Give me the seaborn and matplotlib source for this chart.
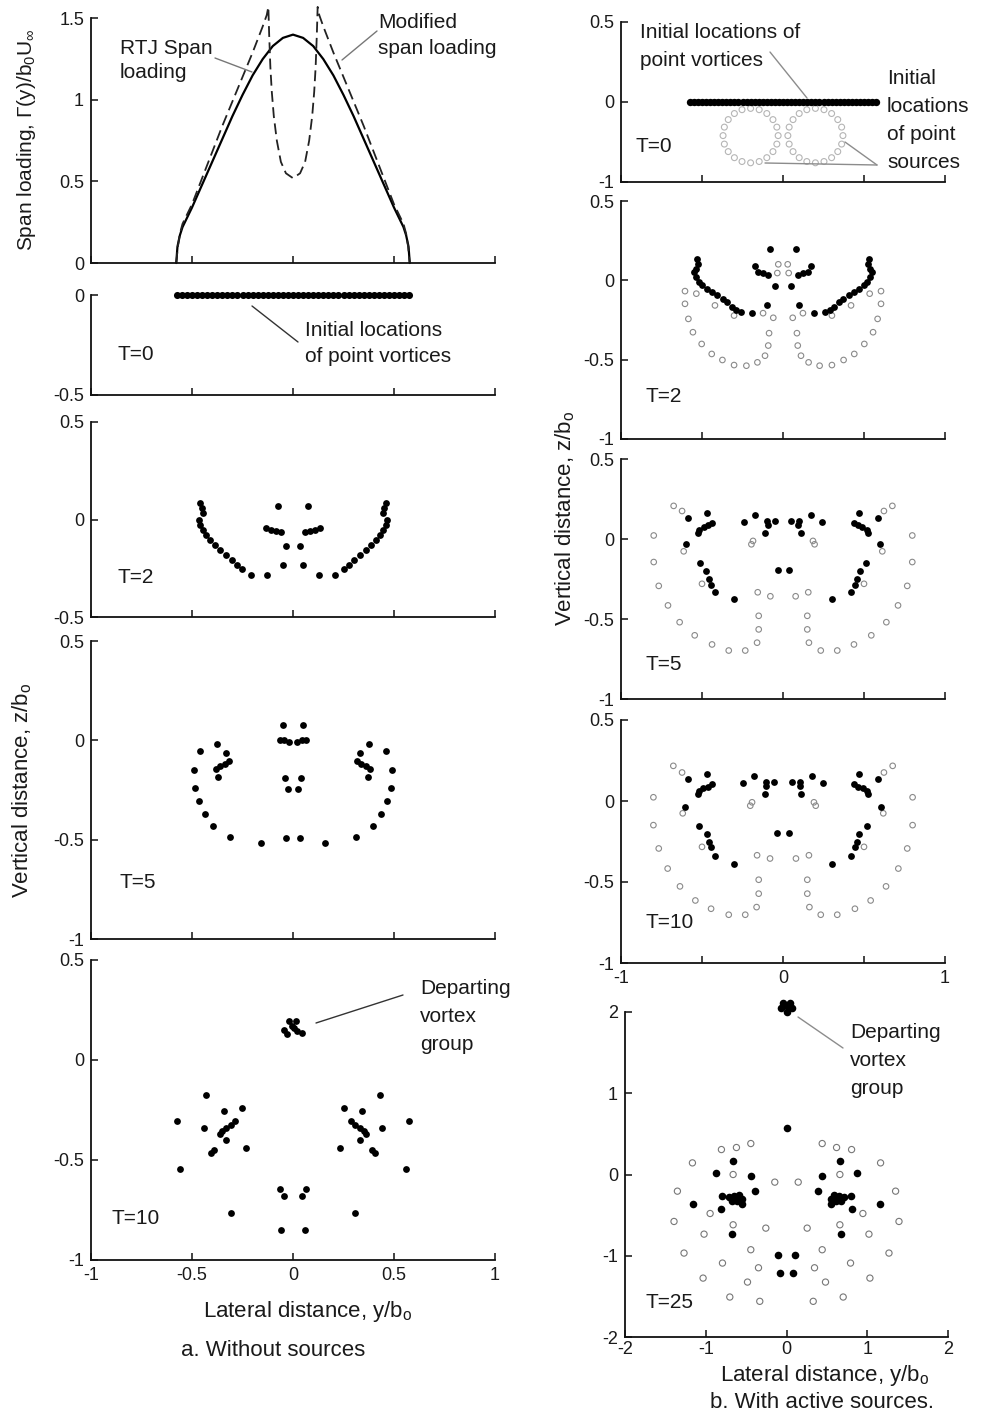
import matplotlib
matplotlib.use("Agg")
import matplotlib.pyplot as plt
import seaborn as sns
from matplotlib.lines import Line2D

sns.set_style("ticks")
plt.rcParams['font.family'] = ['Liberation Sans', 'DejaVu Sans']
plt.rcParams['mathtext.fontset'] = 'custom'
plt.rcParams['mathtext.rm'] = 'Liberation Sans'
plt.rcParams['mathtext.it'] = 'Liberation Sans:italic'
plt.rcParams['axes.unicode_minus'] = False

# ---------------- DATA ----------------
# Span loading (panel a, top)
span_y = [-0.578, -0.572, -0.56, -0.547, -0.5, -0.45, -0.4, -0.35, -0.3, -0.25, -0.2, -0.15, -0.1, -0.05, 0.0,
          0.05, 0.1, 0.15, 0.2, 0.25, 0.3, 0.35, 0.4, 0.45, 0.5, 0.547, 0.56, 0.572, 0.578]
rtj_gamma = [0.0, 0.1, 0.17, 0.22, 0.34, 0.48, 0.62, 0.76, 0.9, 1.03, 1.15, 1.25, 1.33, 1.38, 1.40,
             1.38, 1.33, 1.25, 1.15, 1.03, 0.9, 0.76, 0.62, 0.48, 0.34, 0.22, 0.17, 0.1, 0.0]
mod_y = [-0.578, -0.57, -0.56, -0.547, -0.5, -0.45, -0.4, -0.35, -0.3, -0.25, -0.2, -0.15, -0.13, -0.122,
         -0.118, -0.112, -0.105, -0.095, -0.08, -0.06, -0.035, 0.0,
         0.035, 0.06, 0.08, 0.095, 0.105, 0.112, 0.118, 0.122, 0.13, 0.15, 0.2, 0.25, 0.3, 0.35, 0.4,
         0.45, 0.5, 0.547, 0.56, 0.57, 0.578]
mod_gamma = [0.0, 0.1, 0.18, 0.24, 0.36, 0.52, 0.68, 0.84, 0.99, 1.14, 1.29, 1.45, 1.52, 1.57,
             1.4, 1.2, 1.05, 0.9, 0.75, 0.62, 0.55, 0.52,
             0.55, 0.62, 0.75, 0.9, 1.05, 1.2, 1.4, 1.57, 1.52, 1.45, 1.29, 1.14, 0.99, 0.84, 0.68,
             0.52, 0.36, 0.24, 0.18, 0.1, 0.0]

# Initial vortex sheet (T=0)
vortex_y0 = [-0.575, -0.55, -0.525, -0.5, -0.475, -0.45, -0.425, -0.4, -0.375, -0.35, -0.325, -0.3,
             -0.275, -0.25, -0.225, -0.2, -0.175, -0.15, -0.125, -0.1, -0.075, -0.05, -0.025, 0.0,
             0.025, 0.05, 0.075, 0.1, 0.125, 0.15, 0.175, 0.2, 0.225, 0.25, 0.275, 0.3, 0.325, 0.35,
             0.375, 0.4, 0.425, 0.45, 0.475, 0.5, 0.525, 0.55, 0.575]
vortex_z0 = [0.0] * len(vortex_y0)

# Initial source rings (T=0, with sources)
src0_y = [-0.03, -0.038, -0.062, -0.1, -0.147, -0.2, -0.253, -0.3, -0.338, -0.362, -0.37, -0.362, -0.338, -0.3,
          -0.253, -0.2, -0.147, -0.1, -0.062, -0.038,
          0.37, 0.362, 0.338, 0.3, 0.253, 0.2, 0.147, 0.1, 0.062, 0.038, 0.03, 0.038, 0.062, 0.1, 0.147,
          0.2, 0.253, 0.3, 0.338, 0.362]
src0_z = [-0.21, -0.157, -0.11, -0.072, -0.048, -0.04, -0.048, -0.072, -0.11, -0.157, -0.21, -0.263, -0.31, -0.348,
          -0.372, -0.38, -0.372, -0.348, -0.31, -0.263,
          -0.21, -0.157, -0.11, -0.072, -0.048, -0.04, -0.048, -0.072, -0.11, -0.157, -0.21, -0.263, -0.31, -0.348,
          -0.372, -0.38, -0.372, -0.348, -0.31, -0.263]

# a. Without sources, T=2
a2_y = [-0.458, -0.45, -0.447, -0.466, -0.458, -0.447, -0.43, -0.409, -0.384, -0.359, -0.334, -0.304, -0.276,
        -0.251, -0.21, -0.127, -0.073, -0.136, -0.111, -0.086, -0.061, -0.036, -0.05,
        0.458, 0.45, 0.447, 0.466, 0.458, 0.447, 0.43, 0.409, 0.384, 0.359, 0.334, 0.304, 0.276,
        0.251, 0.21, 0.127, 0.073, 0.136, 0.111, 0.086, 0.061, 0.036, 0.05]
a2_z = [0.086, 0.06, 0.034, 0.0, -0.026, -0.052, -0.077, -0.103, -0.129, -0.155, -0.18, -0.206, -0.232,
        -0.253, -0.284, -0.284, 0.069, -0.043, -0.052, -0.057, -0.065, -0.134, -0.232,
        0.086, 0.06, 0.034, 0.0, -0.026, -0.052, -0.077, -0.103, -0.129, -0.155, -0.18, -0.206, -0.232,
        -0.253, -0.284, -0.284, 0.069, -0.043, -0.052, -0.057, -0.065, -0.134, -0.232]

# a. Without sources, T=5
a5_y = [-0.458, -0.488, -0.483, -0.463, -0.437, -0.397, -0.314, -0.16, -0.376, -0.334, -0.318, -0.337, -0.359,
        -0.379, -0.371, -0.05, -0.066, -0.045, -0.02, -0.041, -0.025, -0.033,
        0.458, 0.488, 0.483, 0.463, 0.437, 0.397, 0.314, 0.16, 0.376, 0.334, 0.318, 0.337, 0.359,
        0.379, 0.371, 0.05, 0.066, 0.045, 0.02, 0.041, 0.025, 0.033]
a5_z = [-0.054, -0.148, -0.238, -0.306, -0.369, -0.429, -0.488, -0.519, -0.02, -0.065, -0.102, -0.119, -0.128,
        -0.145, -0.184, 0.077, 0.003, 0.0, -0.009, -0.192, -0.247, -0.493,
        -0.054, -0.148, -0.238, -0.306, -0.369, -0.429, -0.488, -0.519, -0.02, -0.065, -0.102, -0.119, -0.128,
        -0.145, -0.184, 0.077, 0.003, 0.0, -0.009, -0.192, -0.247, -0.493]

# a. Without sources, T=10
a10_y = [-0.433, -0.573, -0.56, -0.309, -0.341, -0.251, -0.287, -0.309, -0.33, -0.35, -0.363, -0.441, -0.33,
         -0.234, -0.391, -0.408, -0.065, -0.044, -0.057,
         0.433, 0.573, 0.56, 0.309, 0.341, 0.251, 0.287, 0.309, 0.33, 0.35, 0.363, 0.441, 0.33,
         0.234, 0.391, 0.408, 0.065, 0.044, 0.057,
         -0.022, 0.014, -0.006, -0.044, -0.032, 0.022, 0.044, 0.005]
a10_z = [-0.176, -0.303, -0.546, -0.767, -0.256, -0.24, -0.307, -0.323, -0.34, -0.357, -0.37, -0.34, -0.399,
         -0.44, -0.449, -0.466, -0.647, -0.678, -0.848,
         -0.176, -0.303, -0.546, -0.767, -0.256, -0.24, -0.307, -0.323, -0.34, -0.357, -0.37, -0.34, -0.399,
         -0.44, -0.449, -0.466, -0.647, -0.678, -0.848,
         0.196, 0.193, 0.171, 0.149, 0.132, 0.146, 0.137, 0.16]

# b. With sources, T=2
b2_vy = [-0.529, -0.523, -0.535, -0.549, -0.539, -0.519, -0.498, -0.467, -0.436, -0.405, -0.37, -0.344, -0.317,
         -0.288, -0.261, -0.193, -0.082, -0.173, -0.152, -0.123, -0.091, -0.049, -0.097,
         0.529, 0.523, 0.535, 0.549, 0.539, 0.519, 0.498, 0.467, 0.436, 0.405, 0.37, 0.344, 0.317,
         0.288, 0.261, 0.193, 0.082, 0.173, 0.152, 0.123, 0.091, 0.049, 0.097]
b2_vz = [0.137, 0.105, 0.074, 0.053, 0.021, -0.011, -0.032, -0.053, -0.074, -0.095, -0.116, -0.137, -0.165,
         -0.19, -0.2, -0.207, 0.2, 0.089, 0.053, 0.046, 0.032, -0.038, -0.158,
         0.137, 0.105, 0.074, 0.053, 0.021, -0.011, -0.032, -0.053, -0.074, -0.095, -0.116, -0.137, -0.165,
         -0.19, -0.2, -0.207, 0.2, 0.089, 0.053, 0.046, 0.032, -0.038, -0.158]
b2_sy = [-0.605, -0.535, -0.605, -0.584, -0.556, -0.502, -0.44, -0.374, -0.302, -0.226, -0.158, -0.111, -0.091,
         -0.086, -0.06, -0.123, -0.302, -0.42, -0.029, -0.035,
         0.605, 0.535, 0.605, 0.584, 0.556, 0.502, 0.44, 0.374, 0.302, 0.226, 0.158, 0.111, 0.091,
         0.086, 0.06, 0.123, 0.302, 0.42, 0.029, 0.035]
b2_sz = [-0.068, -0.084, -0.148, -0.243, -0.327, -0.401, -0.464, -0.502, -0.534, -0.538, -0.517, -0.475, -0.411,
         -0.333, -0.236, -0.207, -0.222, -0.158, 0.101, 0.046,
         -0.068, -0.084, -0.148, -0.243, -0.327, -0.401, -0.464, -0.502, -0.534, -0.538, -0.517, -0.475, -0.411,
         -0.333, -0.236, -0.207, -0.222, -0.158, 0.101, 0.046]

# b. With sources, T=5
b5_vy = [-0.588, -0.469, -0.438, -0.463, -0.49, -0.516, -0.525, -0.599, -0.514, -0.473, -0.459, -0.442, -0.418,
         -0.305, -0.243, -0.175, -0.099, -0.095, -0.109, -0.051, -0.033,
         0.588, 0.469, 0.438, 0.463, 0.49, 0.516, 0.525, 0.599, 0.514, 0.473, 0.459, 0.442, 0.418,
         0.305, 0.243, 0.175, 0.099, 0.095, 0.109, 0.051, 0.039]
b5_vz = [0.13, 0.161, 0.1, 0.085, 0.073, 0.059, 0.039, -0.033, -0.15, -0.201, -0.252, -0.287, -0.333,
         -0.378, 0.106, 0.15, 0.114, 0.089, 0.039, 0.114, -0.195,
         0.13, 0.161, 0.1, 0.085, 0.073, 0.059, 0.039, -0.033, -0.15, -0.201, -0.252, -0.287, -0.333,
         -0.378, 0.106, 0.15, 0.114, 0.089, 0.039, 0.114, -0.195]
b5_sy = [-0.675, -0.623, -0.798, -0.613, -0.798, -0.767, -0.71, -0.638, -0.545, -0.438, -0.335, -0.233, -0.16,
         -0.15, -0.15, -0.156, -0.078, -0.5, -0.195, -0.185,
         0.675, 0.623, 0.798, 0.613, 0.798, 0.767, 0.71, 0.638, 0.545, 0.438, 0.335, 0.233, 0.16,
         0.15, 0.15, 0.156, 0.078, 0.5, 0.195, 0.185]
b5_sz = [0.207, 0.175, 0.022, -0.077, -0.144, -0.293, -0.415, -0.52, -0.602, -0.659, -0.697, -0.697, -0.648,
         -0.565, -0.48, -0.333, -0.358, -0.28, -0.033, -0.012,
         0.207, 0.175, 0.022, -0.077, -0.144, -0.293, -0.415, -0.52, -0.602, -0.659, -0.697, -0.697, -0.648,
         -0.565, -0.48, -0.333, -0.358, -0.28, -0.033, -0.012]

# b. With sources, T=10
b10_vy = [-0.588, -0.469, -0.438, -0.465, -0.496, -0.516, -0.527, -0.603, -0.521, -0.471, -0.459, -0.444, -0.418,
          -0.3, -0.245, -0.177, -0.105, -0.105, -0.111, -0.053, -0.037,
          0.588, 0.469, 0.438, 0.465, 0.496, 0.516, 0.527, 0.603, 0.521, 0.471, 0.459, 0.444, 0.418,
          0.3, 0.245, 0.177, 0.105, 0.105, 0.111, 0.053, 0.037]
b10_vz = [0.134, 0.165, 0.105, 0.089, 0.079, 0.064, 0.041, -0.035, -0.155, -0.205, -0.252, -0.283, -0.341,
          -0.386, 0.114, 0.155, 0.12, 0.095, 0.041, 0.12, -0.2,
          0.134, 0.165, 0.105, 0.089, 0.079, 0.064, 0.041, -0.035, -0.155, -0.205, -0.252, -0.283, -0.341,
          -0.386, 0.114, 0.155, 0.12, 0.095, 0.041, 0.12, -0.2]
b10_sy = [-0.677, -0.623, -0.8, -0.619, -0.8, -0.767, -0.712, -0.636, -0.541, -0.444, -0.335, -0.233, -0.163,
          -0.15, -0.15, -0.16, -0.08, -0.5, -0.202, -0.191,
          0.677, 0.623, 0.8, 0.619, 0.8, 0.767, 0.712, 0.636, 0.541, 0.444, 0.335, 0.233, 0.163,
          0.15, 0.15, 0.16, 0.08, 0.5, 0.202, 0.191]
b10_sz = [0.217, 0.176, 0.023, -0.076, -0.149, -0.293, -0.417, -0.527, -0.614, -0.665, -0.702, -0.702, -0.655,
          -0.572, -0.486, -0.335, -0.355, -0.283, -0.029, -0.008,
          0.217, 0.176, 0.023, -0.076, -0.149, -0.293, -0.417, -0.527, -0.614, -0.665, -0.702, -0.702, -0.655,
          -0.572, -0.486, -0.335, -0.355, -0.283, -0.029, -0.008]

# b. With sources, T=25
b25_vy = [-0.661, -0.876, -0.442, -0.393, -0.802, -1.157, -0.814, -0.669, -0.711, -0.649, -0.587, -0.545, -0.607,
          -0.669, -0.554, -0.107, -0.083,
          0.661, 0.876, 0.442, 0.393, 0.802, 1.157, 0.814, 0.669, 0.711, 0.649, 0.587, 0.545, 0.607,
          0.669, 0.554, 0.107, 0.083,
          0.012, -0.041, 0.041, -0.066, 0.066, 0.0, 0.0]
b25_vz = [0.172, 0.016, -0.02, -0.205, -0.27, -0.361, -0.422, -0.73, -0.279, -0.266, -0.258, -0.299, -0.32,
          -0.332, -0.361, -0.988, -1.213,
          0.172, 0.016, -0.02, -0.205, -0.27, -0.361, -0.422, -0.73, -0.279, -0.266, -0.258, -0.299, -0.32,
          -0.332, -0.361, -0.988, -1.213,
          0.57, 2.107, 2.107, 2.049, 2.049, 1.996, 2.078]
b25_sy = [-1.165, -0.806, -0.62, -0.442, -0.661, -1.351, -0.946, -0.661, -1.021, -1.393, -1.269, -0.793, -1.033,
          -0.702, -0.331, -0.483, -0.347, -0.442, -0.256, -0.145,
          1.165, 0.806, 0.62, 0.442, 0.661, 1.351, 0.946, 0.661, 1.021, 1.393, 1.269, 0.793, 1.033,
          0.702, 0.331, 0.483, 0.347, 0.442, 0.256, 0.145]
b25_sz = [0.143, 0.307, 0.332, 0.381, 0.0, -0.205, -0.48, -0.619, -0.734, -0.578, -0.967, -1.09, -1.275,
          -1.508, -1.561, -1.324, -1.148, -0.926, -0.66, -0.094,
          0.143, 0.307, 0.332, 0.381, 0.0, -0.205, -0.48, -0.619, -0.734, -0.578, -0.967, -1.09, -1.275,
          -1.508, -1.561, -1.324, -1.148, -0.926, -0.66, -0.094]

# ---------------- FIGURE ----------------
W, H = 981, 1414
fig = plt.figure(figsize=(W / 100, H / 100), dpi=100)
fig.patch.set_facecolor('white')

TXT = '#1a1a1a'
TICK_FS = 13
ANN_FS = 15
LAB_FS = 16


def box(l, r, t, b):
    return [l / W, 1 - b / H, (r - l) / W, (b - t) / H]


def fx(px):
    return px / W


def fy(py):
    return 1 - py / H


def style(ax, xlim, ylim, xticks, xlabels, yticks, ylabels, ybounds=None):
    ax.set_xlim(*xlim)
    ax.set_ylim(*ylim)
    sns.despine(ax=ax)
    for s in ('left', 'bottom'):
        ax.spines[s].set_linewidth(1.3)
        ax.spines[s].set_color('#111111')
    if ybounds is not None:
        ax.spines['left'].set_bounds(*ybounds)
    ax.set_xticks(xticks)
    ax.set_xticklabels(xlabels)
    ax.set_yticks(yticks)
    ax.set_yticklabels(ylabels)
    ax.tick_params(direction='in', length=5, width=1.1, labelsize=TICK_FS,
                   colors='#111111', labelcolor=TXT, pad=5)
    ax.set_facecolor('none')


def vort(ax, y, z, s=24):
    sns.scatterplot(x=y, y=z, ax=ax, color='black', s=s, linewidth=0,
                    legend=False, clip_on=False, zorder=3)


def srcs(ax, y, z, s=16, ec='#8a8a8a'):
    sns.scatterplot(x=y, y=z, ax=ax, color='white', s=s, linewidth=0.8,
                    legend=False, clip_on=False, zorder=2)
    coll = ax.collections[-1]
    coll.set_facecolor('none')
    coll.set_edgecolor(ec)


def text_lines(x, ys, lines, fs=ANN_FS, ha='left'):
    for yy, ln in zip(ys, lines):
        fig.text(fx(x), fy(yy), ln, fontsize=fs, color=TXT, ha=ha, va='center')


def leader(p1, p2, color='#444444', lw=1.0):
    fig.add_artist(Line2D([fx(p1[0]), fx(p2[0])], [fy(p1[1]), fy(p2[1])],
                          transform=fig.transFigure, color=color, lw=lw))


xt_a = [-1, -0.5, 0, 0.5, 1]
blank5 = ['', '', '', '', '']

# ---- a. Span loading ----
ax = fig.add_axes(box(91, 495, 2, 263))
style(ax, (-1, 1), (0, 1.6), xt_a, blank5, [0, 0.5, 1, 1.5], ['0', '0.5', '1', '1.5'], ybounds=(0, 1.5))
sns.lineplot(x=span_y, y=rtj_gamma, ax=ax, color='black', lw=1.6, estimator=None, sort=False, clip_on=False)
sns.lineplot(x=mod_y, y=mod_gamma, ax=ax, color='#222222', lw=1.3, estimator=None, sort=False, clip_on=False)
ax.lines[-1].set_dashes((6, 3))
text_lines(120, [48, 73], ['RTJ Span', 'loading'])
leader((215, 58), (252, 72), '#777777')
text_lines(378, [22, 49], ['Modified', 'span loading'])
leader((377, 31), (342, 60), '#777777')

# ---- a. T=0 ----
ax = fig.add_axes(box(91, 495, 295, 395))
style(ax, (-1, 1), (-0.5, 0), xt_a, blank5, [-0.5, 0], ['-0.5', '0'])
vort(ax, vortex_y0, vortex_z0, s=26)
text_lines(117, [355], ['T=0'])
text_lines(305, [330, 357], ['Initial locations', 'of point vortices'])
leader((252, 306), (298, 342), '#333333')

# ---- a. T=2 ----
ax = fig.add_axes(box(91, 495, 422, 617))
style(ax, (-1, 1), (-0.5, 0.5), xt_a, blank5, [-0.5, 0, 0.5], ['-0.5', '0', '0.5'])
vort(ax, a2_y, a2_z)
text_lines(117, [577], ['T=2'])

# ---- a. T=5 ----
ax = fig.add_axes(box(91, 495, 641, 939))
style(ax, (-1, 1), (-1, 0.5), xt_a, blank5, [-1, -0.5, 0, 0.5], ['-1', '-0.5', '0', '0.5'])
vort(ax, a5_y, a5_z)
text_lines(120, [882], ['T=5'])

# ---- a. T=10 ----
ax = fig.add_axes(box(91, 495, 960, 1260))
style(ax, (-1, 1), (-1, 0.5), xt_a, ['-1', '-0.5', '0', '0.5', '1'],
      [-1, -0.5, 0, 0.5], ['-1', '-0.5', '0', '0.5'])
vort(ax, a10_y, a10_z)
text_lines(112, [1219], ['T=10'])
text_lines(420, [989, 1016, 1044], ['Departing', 'vortex', 'group'])
leader((316, 1023), (403, 995), '#333333')

fig.text(fx(308), fy(1312), r'Lateral distance, y/b$_\mathrm{o}$', fontsize=LAB_FS, color=TXT,
         ha='center', va='center')
fig.text(fx(273), fy(1351), 'a. Without sources', fontsize=LAB_FS, color=TXT, ha='center', va='center')
fig.text(fx(27), fy(140), r'Span loading, Γ(y)/b$_0$U$_\infty$', fontsize=LAB_FS - 1, color=TXT,
         ha='center', va='center', rotation=90)
fig.text(fx(22), fy(790), r'Vertical distance, z/b$_\mathrm{o}$', fontsize=LAB_FS, color=TXT,
         ha='center', va='center', rotation=90)

# ---- b. T=0 ----
xt_b = [-1, -0.5, 0, 0.5, 1]
ax = fig.add_axes(box(621, 945, 22, 182))
style(ax, (-1, 1), (-0.5, 0.5), xt_b, blank5, [-0.5, 0, 0.5], ['-1', '0', '0.5'])
srcs(ax, src0_y, src0_z, s=18, ec='#b5b5b5')
vort(ax, vortex_y0, vortex_z0, s=28)
text_lines(636, [147], ['T=0'])
text_lines(640, [33, 60], ['Initial locations of', 'point vortices'])
leader((770, 52), (807, 98), '#8c8c8c')
text_lines(887, [78, 106, 135, 163], ['Initial', 'locations', 'of point', 'sources'])
leader((877, 165), (845, 142), '#8c8c8c')
leader((877, 165), (765, 163), '#8c8c8c')

# ---- b. T=2 ----
ax = fig.add_axes(box(621, 945, 201, 439))
style(ax, (-1, 1), (-1, 0.5), xt_b, blank5, [-1, -0.5, 0, 0.5], ['-1', '-0.5', '0', '0.5'])
srcs(ax, b2_sy, b2_sz)
vort(ax, b2_vy, b2_vz)
text_lines(645, [396], ['T=2'])

# ---- b. T=5 ----
ax = fig.add_axes(box(621, 945, 459, 699))
style(ax, (-1, 1), (-1, 0.5), xt_b, blank5, [-1, -0.5, 0, 0.5], ['-1', '-0.5', '0', '0.5'])
srcs(ax, b5_sy, b5_sz)
vort(ax, b5_vy, b5_vz)
text_lines(646, [664], ['T=5'])

# ---- b. T=10 ----
ax = fig.add_axes(box(621, 945, 720, 963))
style(ax, (-1, 1), (-1, 0.5), xt_b, ['-1', '', '0', '', '1'], [-1, -0.5, 0, 0.5], ['-1', '-0.5', '0', '0.5'])
srcs(ax, b10_sy, b10_sz)
vort(ax, b10_vy, b10_vz)
text_lines(646, [922], ['T=10'])

# ---- b. T=25 ----
ax = fig.add_axes(box(625, 948, 1012, 1337))
style(ax, (-2, 2), (-2, 2), [-2, -1, 0, 1, 2], ['-2', '-1', '0', '1', '2'],
      [-2, -1, 0, 1, 2], ['-2', '-1', '0', '1', '2'])
ax.tick_params(axis='x', pad=3)
srcs(ax, b25_sy, b25_sz, s=20, ec='#777777')
vort(ax, b25_vy, b25_vz, s=30)
text_lines(645, [1302], ['T=25'])
text_lines(850, [1033, 1060, 1088], ['Departing', 'vortex', 'group'])
leader((798, 1017), (843, 1048), '#8c8c8c')

fig.text(fx(825), fy(1376), r'Lateral distance, y/b$_\mathrm{o}$', fontsize=LAB_FS, color=TXT,
         ha='center', va='center')
fig.text(fx(822), fy(1402), 'b. With active sources.', fontsize=LAB_FS, color=TXT, ha='center', va='center')
fig.text(fx(565), fy(518), r'Vertical distance, z/b$_\mathrm{o}$', fontsize=LAB_FS, color=TXT,
         ha='center', va='center', rotation=90)

fig.savefig('out.png', dpi=100)
